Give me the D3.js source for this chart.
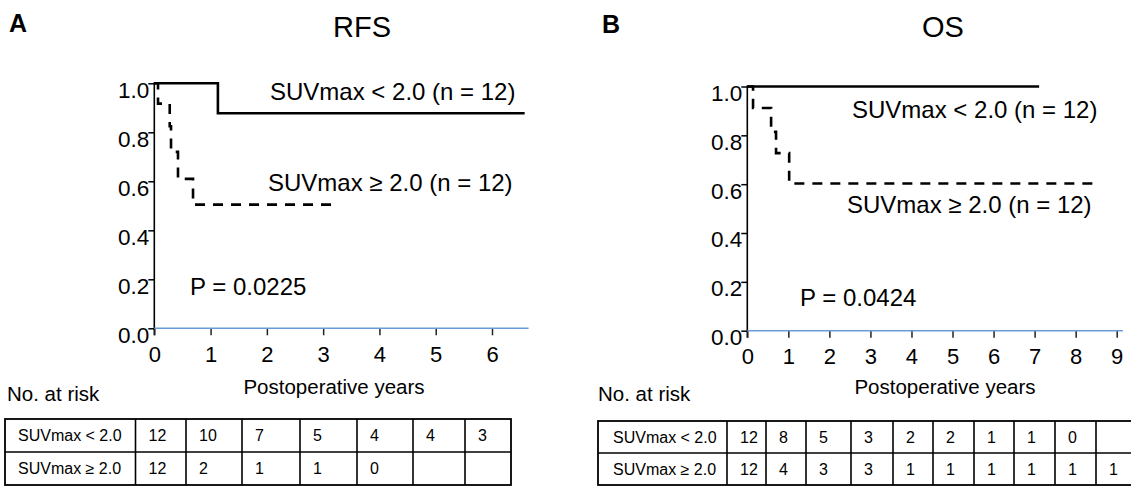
<!DOCTYPE html>
<html><head><meta charset="utf-8">
<script src="https://cdn.jsdelivr.net/npm/d3@7"></script>
<style>
body{margin:0;background:#fff}
svg{display:block}
text{font-family:"Liberation Sans",Arial,Helvetica,sans-serif;fill:#000}
</style>
</head><body>
<svg id="chart" width="1131" height="486"></svg>
<script>
// ---------------- data ----------------
const panelLetters = ["A", "B"];
const titles = ["RFS", "OS"];
const yTickValues = [0, 0.2, 0.4, 0.6, 0.8, 1.0];
const rfsTicks = [0, 1, 2, 3, 4, 5, 6];
const osTicks = [0, 1, 2, 3, 4, 5, 6, 7, 8, 9];
const groupLabels = ["SUVmax < 2.0", "SUVmax \u2265 2.0"];
const groupN = [12, 12];
const pValues = ["P = 0.0225", "P = 0.0424"];
const xAxisTitle = "Postoperative years";
const riskTitle = "No. at risk";

// Kaplan–Meier steps (time in years, survival proportion)
const rfsLowTimes = [0, 1.13, 6.58];
const rfsLowSurv  = [1, 0.878, 0.878];
const rfsHighTimes = [0, 0.066, 0.274, 0.297, 0.421, 0.688, 3.28];
const rfsHighSurv  = [1, 0.917, 0.825, 0.72, 0.61, 0.505, 0.505];
const osLowTimes = [0, 7.11];
const osLowSurv  = [1, 1];
const osHighTimes = [0, 0.14, 0.58, 0.70, 1.02, 8.42];
const osHighSurv  = [1, 0.912, 0.814, 0.727, 0.603, 0.603];

// Numbers at risk
const rfsRiskLow  = [12, 10, 7, 5, 4, 4, 3];
const rfsRiskHigh = [12, 2, 1, 1, 0, null, null];
const osRiskLow   = [12, 8, 5, 3, 2, 2, 1, 1, 0, null];
const osRiskHigh  = [12, 4, 3, 3, 1, 1, 1, 1, 1, 1];

// ---------------- layout ----------------
const svg = d3.select("#chart");
const FONT = '"Liberation Sans",Arial,Helvetica,sans-serif';

const panels = [
  {
    letter: panelLetters[0], title: titles[0], ticks: rfsTicks,
    low: {t: rfsLowTimes, s: rfsLowSurv}, high: {t: rfsHighTimes, s: rfsHighSurv},
    risk: [rfsRiskLow, rfsRiskHigh], p: pValues[0],
    letterPos: [9, 32], titleX: 362,
    xRange: [154.3, 492], yRange: [328.3, 83.3], axisEnd: 6.65,
    leg1: [270, 100], leg2: [268, 191], pPos: [190, 295],
    axisTitleX: 334, riskPos: [7, 401],
    cols: [5, 135.5, 186, 242, 300, 357, 413, 465, 511], rows: [419, 452, 485],
    tableFont: 'Lato, "Open Sans", sans-serif', tableSize: 16, pad: 13, labelPad: 13
  },
  {
    letter: panelLetters[1], title: titles[1], ticks: osTicks,
    low: {t: osLowTimes, s: osLowSurv}, high: {t: osHighTimes, s: osHighSurv},
    risk: [osRiskLow, osRiskHigh], p: pValues[1],
    letterPos: [602, 33], titleX: 943,
    xRange: [747.3, 1116.7], yRange: [330.7, 86.5], axisEnd: 9.15,
    leg1: [852, 118], leg2: [847, 213], pPos: [800, 306],
    axisTitleX: 945, riskPos: [598, 401],
    cols: [598, 727, 766, 806, 851, 893, 933, 974, 1014, 1055, 1096, 1137], rows: [421, 453, 485],
    tableFont: FONT, tableSize: 16, pad: 13, labelPad: 15
  }
];

panels.forEach(P => {
  const g = svg.append("g");
  const maxTick = P.ticks[P.ticks.length - 1];
  const x = d3.scaleLinear().domain([0, maxTick]).range(P.xRange);
  const y = d3.scaleLinear().domain([0, 1]).range(P.yRange);

  // letter + title
  g.append("text").attr("x", P.letterPos[0]).attr("y", P.letterPos[1])
    .attr("font-size", 25).attr("font-weight", "bold").text(P.letter);
  g.append("text").attr("x", P.titleX).attr("y", 37).attr("text-anchor", "middle")
    .attr("font-size", 29).text(P.title);

  // y axis
  const yAxis = d3.axisLeft(y).tickValues(yTickValues).tickFormat(d3.format(".1f")).tickSize(6).tickPadding(3);
  const ya = g.append("g").attr("transform", `translate(${x(0)},0)`).call(yAxis);
  ya.select(".domain").remove();
  ya.selectAll(".tick line").attr("stroke", "#000").attr("stroke-width", 1.5);
  ya.selectAll(".tick text").attr("font-size", 22.5).attr("font-family", FONT).attr("fill", "#000")
    .attr("dy", "0.62em").attr("x", -5);
  g.append("line").attr("x1", x(0)).attr("x2", x(0)).attr("y1", y(1) - 1).attr("y2", y(0) + 7)
    .attr("stroke", "#000").attr("stroke-width", 1.6);

  // x axis
  const xAxis = d3.axisBottom(x).tickValues(P.ticks).tickFormat(d3.format("d")).tickSize(7).tickPadding(11);
  const xa = g.append("g").attr("transform", `translate(0,${y(0)})`).call(xAxis);
  xa.select(".domain").remove();
  xa.selectAll(".tick line").attr("stroke", "#222").attr("stroke-width", 1.5);
  xa.selectAll(".tick text").attr("font-size", 22).attr("font-family", FONT).attr("fill", "#000");
  g.append("line").attr("x1", x(0)).attr("x2", x(P.axisEnd)).attr("y1", y(0)).attr("y2", y(0))
    .attr("stroke", "#6a9bd8").attr("stroke-width", 1.6);

  // curves
  const line = d3.line().x(d => x(d[0])).y(d => y(d[1])).curve(d3.curveStepAfter);
  const lowPts = P.low.t.map((t, i) => [t, P.low.s[i]]);
  const highPts = P.high.t.map((t, i) => [t, P.high.s[i]]);
  g.append("path").attr("d", line(lowPts)).attr("fill", "none")
    .attr("stroke", "#000").attr("stroke-width", 2.6);
  g.append("path").attr("d", line(highPts)).attr("fill", "none")
    .attr("stroke", "#000").attr("stroke-width", 2.6).attr("stroke-dasharray", "10,8");

  // legends & p
  g.append("text").attr("x", P.leg1[0]).attr("y", P.leg1[1]).attr("font-size", 24)
    .text(`${groupLabels[0]} (n = ${groupN[0]})`);
  g.append("text").attr("x", P.leg2[0]).attr("y", P.leg2[1]).attr("font-size", 24)
    .text(`${groupLabels[1]} (n = ${groupN[1]})`);
  g.append("text").attr("x", P.pPos[0]).attr("y", P.pPos[1]).attr("font-size", 24).text(P.p);

  // axis title & risk label
  g.append("text").attr("x", P.axisTitleX).attr("y", 394).attr("text-anchor", "middle")
    .attr("font-size", 20.5).text(xAxisTitle);
  g.append("text").attr("x", P.riskPos[0]).attr("y", P.riskPos[1]).attr("font-size", 20.5).text(riskTitle);

  // risk table
  const tg = g.append("g");
  const c = P.cols, r = P.rows;
  tg.append("rect").attr("x", c[0]).attr("y", r[0]).attr("width", c[c.length - 1] - c[0])
    .attr("height", r[r.length - 1] - r[0]).attr("fill", "none").attr("stroke", "#000").attr("stroke-width", 1.8);
  tg.selectAll("line.v").data(c.slice(1, -1)).join("line").attr("class", "v")
    .attr("x1", d => d).attr("x2", d => d).attr("y1", r[0]).attr("y2", r[r.length - 1])
    .attr("stroke", "#000").attr("stroke-width", 1.6);
  tg.selectAll("line.h").data(r.slice(1, -1)).join("line").attr("class", "h")
    .attr("x1", c[0]).attr("x2", c[c.length - 1]).attr("y1", d => d).attr("y2", d => d)
    .attr("stroke", "#000").attr("stroke-width", 1.6);
  P.risk.forEach((row, ri) => {
    const yMid = (r[ri] + r[ri + 1]) / 2;
    tg.append("text").attr("x", c[0] + P.labelPad).attr("y", yMid).attr("dy", "0.36em")
      .attr("font-family", P.tableFont).attr("font-size", P.tableSize).text(groupLabels[ri]);
    row.forEach((v, ci) => {
      if (v === null) return;
      tg.append("text").attr("x", c[ci + 1] + P.pad).attr("y", yMid).attr("dy", "0.36em")
        .attr("font-family", P.tableFont).attr("font-size", P.tableSize).text(v);
    });
  });
});
</script>
</body></html>
